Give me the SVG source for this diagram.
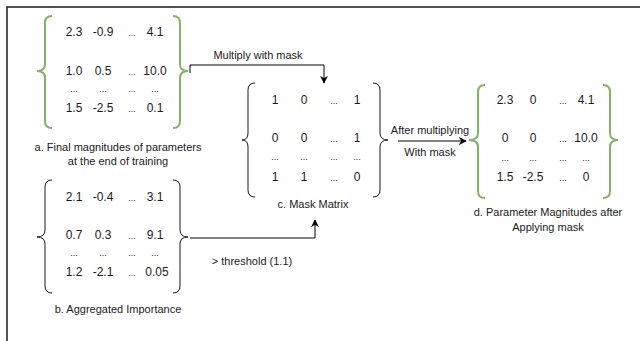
<svg xmlns="http://www.w3.org/2000/svg" width="640" height="341" viewBox="0 0 640 341">
<defs>
<style>
text{font-family:"Liberation Sans",Arial,sans-serif;font-size:11px;fill:#1a1a1a;text-anchor:middle}
.n{font-size:12px}
.g{fill:none;stroke:#82b366;stroke-width:2}
.k{fill:none;stroke:#1a1a1a;stroke-width:1}
.c{fill:none;stroke:#000;stroke-width:1}
.dot{font-size:9px}
</style>
<marker id="ah" viewBox="0 0 10 10" refX="9" refY="5" markerWidth="8" markerHeight="8" markerUnits="userSpaceOnUse" orient="auto">
<path d="M0,0 L10,5 L0,10 L3,5 Z" fill="#000"/>
</marker>
</defs>
<rect width="640" height="341" fill="#fff"/>
<path d="M7,341 L7,7 L640,7" fill="none" stroke="#1a1a1a" stroke-width="1.5"/>

<g id="matrix-a">
<path class="g" d="M52,16 Q45,16 45,23 L45,64 Q45,71 37,71 Q45,71 45,78 L45,121 Q45,128 52,128"/>
<path class="g" d="M173,16 Q180,16 180,23 L180,64 Q180,71 188,71 Q180,71 180,78 L180,121 Q180,128 173,128"/>
<text x="74" y="36" class="n">2.3</text><text x="103" y="36" class="n">-0.9</text><text x="132" y="36" class="dot">...</text><text x="155" y="36" class="n">4.1</text>
<text x="74" y="75" class="n">1.0</text><text x="103" y="75" class="n">0.5</text><text x="132" y="75" class="dot">...</text><text x="155" y="75" class="n">10.0</text>
<text x="74" y="92" class="dot">...</text><text x="103" y="92" class="dot">...</text><text x="132" y="92" class="dot">...</text><text x="155" y="92" class="dot">...</text>
<text x="74" y="112" class="n">1.5</text><text x="103" y="112" class="n">-2.5</text><text x="132" y="112" class="dot">...</text><text x="155" y="112" class="n">0.1</text>
<text x="118" y="151">a. Final magnitudes of parameters</text>
<text x="118" y="165">at the end of training</text>
</g>

<g id="matrix-b">
<path class="k" d="M52,180 Q45,180 45,187 L45,230 Q45,237 37,237 Q45,237 45,244 L45,286 Q45,293 52,293"/>
<path class="k" d="M173,180 Q180,180 180,187 L180,230 Q180,237 188,237 Q180,237 180,244 L180,286 Q180,293 173,293"/>
<text x="74" y="201" class="n">2.1</text><text x="103" y="201" class="n">-0.4</text><text x="132" y="201" class="dot">...</text><text x="155" y="201" class="n">3.1</text>
<text x="74" y="239" class="n">0.7</text><text x="103" y="239" class="n">0.3</text><text x="132" y="239" class="dot">...</text><text x="155" y="239" class="n">9.1</text>
<text x="74" y="256" class="dot">...</text><text x="103" y="256" class="dot">...</text><text x="132" y="256" class="dot">...</text><text x="155" y="256" class="dot">...</text>
<text x="74" y="276" class="n">1.2</text><text x="103" y="276" class="n">-2.1</text><text x="132" y="276" class="dot">...</text><text x="157" y="276" class="n">0.05</text>
<text x="118" y="313">b. Aggregated Importance</text>
</g>

<g id="matrix-c">
<path class="k" d="M255,83 Q248,83 248,90 L248,133 Q248,140 242,140 Q248,140 248,147 L248,190 Q248,197 255,197"/>
<path class="k" d="M373,83 Q380,83 380,90 L380,133 Q380,140 388,140 Q380,140 380,147 L380,190 Q380,197 373,197"/>
<text x="275" y="104" class="n">1</text><text x="304" y="104" class="n">0</text><text x="334" y="104" class="dot">...</text><text x="357" y="104" class="n">1</text>
<text x="275" y="142" class="n">0</text><text x="304" y="142" class="n">0</text><text x="334" y="142" class="dot">...</text><text x="357" y="142" class="n">1</text>
<text x="275" y="160" class="dot">...</text><text x="304" y="160" class="dot">...</text><text x="334" y="160" class="dot">...</text><text x="357" y="160" class="dot">...</text>
<text x="275" y="181" class="n">1</text><text x="304" y="181" class="n">1</text><text x="334" y="181" class="dot">...</text><text x="357" y="181" class="n">0</text>
<text x="313" y="208">c. Mask Matrix</text>
</g>

<g id="matrix-d">
<path class="g" d="M485,85 Q478,85 478,92 L478,133 Q478,140 469,140 Q478,140 478,147 L478,191 Q478,198 485,198"/>
<path class="g" d="M603,85 Q610,85 610,92 L610,133 Q610,140 618,140 Q610,140 610,147 L610,191 Q610,198 603,198"/>
<text x="505" y="104" class="n">2.3</text><text x="533" y="104" class="n">0</text><text x="563" y="104" class="dot">...</text><text x="586" y="104" class="n">4.1</text>
<text x="505" y="142" class="n">0</text><text x="533" y="142" class="n">0</text><text x="563" y="142" class="dot">...</text><text x="586" y="142" class="n">10.0</text>
<text x="505" y="161" class="dot">...</text><text x="533" y="161" class="dot">...</text><text x="563" y="161" class="dot">...</text><text x="586" y="161" class="dot">...</text>
<text x="505" y="181" class="n">1.5</text><text x="533" y="181" class="n">-2.5</text><text x="563" y="181" class="dot">...</text><text x="586" y="181" class="n">0</text>
<text x="548" y="216">d. Parameter Magnitudes after</text>
<text x="548" y="231">Applying mask</text>
</g>

<g id="connectors">
<path class="c" d="M190,73 L190,65 L324,65 L324,83" marker-end="url(#ah)"/>
<text x="258" y="59">Multiply with mask</text>
<path class="c" d="M190,238 L315,238 L315,220" marker-end="url(#ah)"/>
<text x="252" y="265">&gt; threshold (1.1)</text>
<path class="c" d="M398,141 L466,141" stroke="#333" marker-end="url(#ah)"/>
<text x="430" y="134">After multiplying</text>
<text x="430" y="156">With mask</text>
</g>
</svg>
